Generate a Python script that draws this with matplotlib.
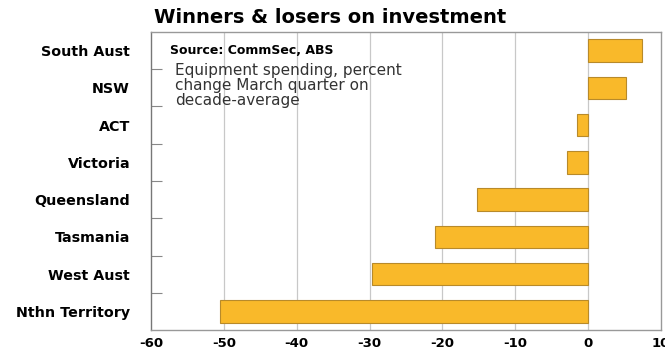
import matplotlib
matplotlib.use("Agg")
import matplotlib.pyplot as plt
from matplotlib.ticker import FixedLocator

regions = ["South Aust", "NSW", "ACT", "Victoria", "Queensland", "Tasmania", "West Aust", "Nthn Territory"]
values = [7.4, 5.2, -1.5, -2.9, -15.2, -21.0, -29.6, -50.5]
xticks = [-60, -50, -40, -30, -20, -10, 0, 10]

plt.rcParams['font.family'] = ['DejaVu Sans']

fig = plt.figure(figsize=(6.65, 3.58), dpi=100)
ax = fig.add_axes([0.227, 0.078, 0.767, 0.833])

ypos = list(range(len(regions)))[::-1]
ax.barh(ypos, values, height=0.6, color='#F9B92A', edgecolor='#B88A2A', linewidth=0.8, zorder=3)

ax.set_xlim(-60, 10)
ax.set_ylim(-0.5, 7.5)
ax.set_xticks(xticks)
ax.set_xticklabels([str(t) for t in xticks], fontsize=9.5, fontweight='bold')
ax.tick_params(axis='x', length=0, pad=5)
for x in xticks[1:-1]:
    ax.axvline(x, color='#C8C8C8', linewidth=0.9, zorder=1)

ax.set_yticks(ypos)
ax.set_yticklabels(regions, fontsize=10.3, fontweight='bold')
ax.tick_params(axis='y', which='major', length=0, pad=15)
ax.yaxis.set_minor_locator(FixedLocator([i + 0.5 for i in range(len(regions) - 1)]))
ax.tick_params(axis='y', which='minor', direction='in', length=8, color='#888888', width=0.8)

for s in ax.spines.values():
    s.set_color('#999999')
    s.set_linewidth(1.0)
ax.spines['left'].set_color('#777777')

fig.text(0.232, 0.952, "Winners & losers on investment", fontsize=14, fontweight='bold', va='center', ha='left')
ax.text(0.037, 0.96, "Source: CommSec, ABS", transform=ax.transAxes, fontsize=9, fontweight='bold', va='top', ha='left')
ax.text(0.047, 0.895, "Equipment spending, percent\nchange March quarter on\ndecade-average", transform=ax.transAxes,
        fontsize=11, color='#333333', va='top', ha='left', linespacing=1.0)

fig.savefig("out.png", dpi=100)
